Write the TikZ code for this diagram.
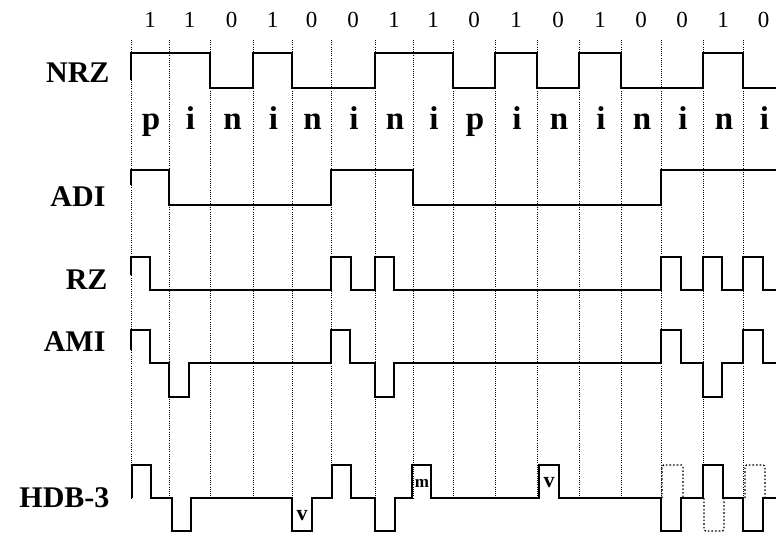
\documentclass[tikz,border=0pt]{standalone}
\usepackage{fontspec}
\setmainfont{Liberation Serif}
\begin{document}
\begin{tikzpicture}[x=1pt,y=-1pt,
  wave/.style={line width=2pt,line join=miter},
  ghost/.style={line width=1.4pt,dash pattern=on 1.6pt off 2pt,rounded corners=1.5pt},
  gridline/.style={line width=1pt,dash pattern=on 1pt off 1.2pt},
  sig/.style={font=\fontsize{30}{34}\selectfont\bfseries,anchor=base east},
  bitlbl/.style={font=\fontsize{23}{26}\selectfont,anchor=base},
  cls/.style={font=\fontsize{33}{36}\selectfont\bfseries,anchor=base},
  pulselbl/.style={font=\fontsize{22}{24}\selectfont\bfseries,inner sep=0pt},
  smallpulselbl/.style={font=\fontsize{17}{20}\selectfont\bfseries,inner sep=0pt}]
\useasboundingbox (0,0) rectangle (776,534);
% grid
\foreach \x [count=\i from 0] in {131,169,210,253,292,331,375,413,453,495,537,579,621,661,703,743}
  \draw[gridline] (\x,40) -- (\x,498);
% bits and classes
\foreach \a/\b/\v/\c [count=\i] in {131/169/1/p,169/210/1/i,210/253/0/n,253/292/1/i,292/331/0/n,331/375/0/i,375/413/1/n,413/453/1/i,453/495/0/p,495/537/1/i,537/579/0/n,579/621/1/i,621/661/0/n,661/703/0/i,703/743/1/n,743/784/0/i}{
  \node[bitlbl] (b\i) at ({(\a+\b)/2},28) {\v};
  \node[cls] (c\i) at ({(\a+\b)/2+1},130) {\c};
}
% labels
\node[sig] (lnrz) at (113,83) {NRZ};
\node[sig] (ladi) at (109,207) {ADI};
\node[sig] (lrz) at (111,290) {RZ};
\node[sig] (lami) at (109,352) {AMI};
\node[sig] (lhdb) at (113,507) {HDB-3};
% NRZ
\draw[wave] (131,80) -- (131,53) -- (210,53) -- (210,88) -- (253,88) -- (253,53) -- (292,53) -- (292,88)
  -- (375,88) -- (375,53) -- (453,53) -- (453,88) -- (495,88) -- (495,53) -- (537,53) -- (537,88)
  -- (579,88) -- (579,53) -- (621,53) -- (621,88) -- (703,88) -- (703,53) -- (743,53) -- (743,88) -- (776,88);
% ADI
\draw[wave] (131,185) -- (131,170) -- (169,170) -- (169,205) -- (331,205) -- (331,170) -- (413,170)
  -- (413,205) -- (661,205) -- (661,170) -- (776,170);
% RZ
\draw[wave] (131,275) -- (131,257) -- (150,257) -- (150,290) -- (331,290) -- (331,257) -- (351,257) -- (351,290)
  -- (375,290) -- (375,257) -- (394,257) -- (394,290) -- (661,290) -- (661,257) -- (681,257) -- (681,290)
  -- (703,290) -- (703,257) -- (722,257) -- (722,290) -- (743,290) -- (743,257) -- (763,257) -- (763,290) -- (776,290);
% AMI
\draw[wave] (131,350) -- (131,330) -- (150,330) -- (150,363) -- (169,363) -- (169,397) -- (189,397) -- (189,363)
  -- (331,363) -- (331,330) -- (350,330) -- (350,363) -- (375,363) -- (375,397) -- (394,397) -- (394,363)
  -- (661,363) -- (661,330) -- (681,330) -- (681,363) -- (703,363) -- (703,397) -- (722,397) -- (722,363)
  -- (743,363) -- (743,330) -- (763,330) -- (763,363) -- (776,363);
% HDB-3
\draw[wave] (132,498) -- (132,465) -- (151,465) -- (151,498) -- (172,498) -- (172,531) -- (191,531) -- (191,498)
  -- (292,498) -- (292,531) -- (312,531) -- (312,498) -- (332,498) -- (332,465) -- (351,465) -- (351,498)
  -- (375,498) -- (375,531) -- (395,531) -- (395,498) -- (412,498) -- (412,465) -- (431,465) -- (431,498)
  -- (539,498) -- (539,465) -- (559,465) -- (559,498) -- (661,498) -- (661,531) -- (681,531) -- (681,498)
  -- (703,498) -- (703,465) -- (723,465) -- (723,498) -- (743,498) -- (743,531) -- (763,531) -- (763,498) -- (776,498);
\draw[ghost] (662,498) -- (662,465) -- (683,465) -- (683,498);
\draw[ghost] (704,498) -- (704,531) -- (724,531) -- (724,498);
\draw[ghost] (745,498) -- (745,465) -- (765,465) -- (765,498);
\node[pulselbl] (v1) at (302,516) {v};
\node[smallpulselbl] (m1) at (422,483) {m};
\node[pulselbl] (v2) at (549,483) {v};
\end{tikzpicture}
\end{document}
